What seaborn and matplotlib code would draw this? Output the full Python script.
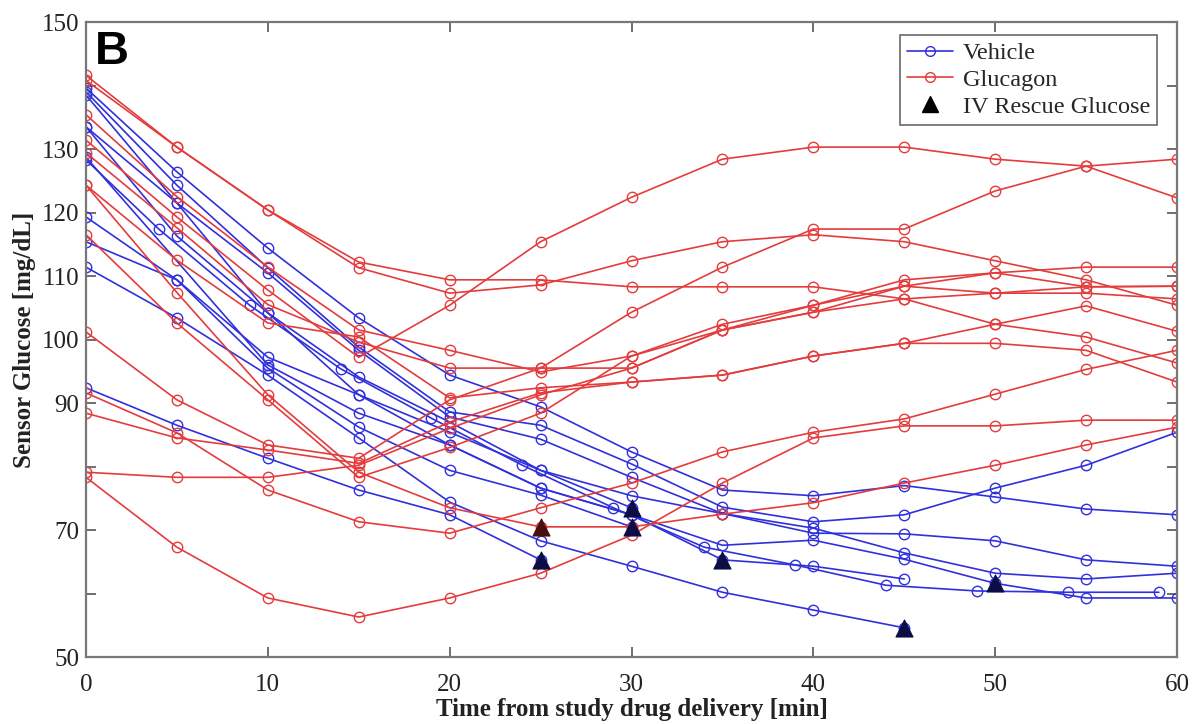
import matplotlib
matplotlib.use("Agg")
import matplotlib.pyplot as plt
from matplotlib.lines import Line2D
import seaborn as sns
import pandas as pd
import numpy as np

nan = np.nan

# ---- time grids ----
times = [0, 5, 10, 15, 20, 25, 30, 35, 40, 45, 50, 55, 60]
offset_times = [0, 4, 9, 14, 19, 24, 29, 34, 39, 44, 49, 54, 59]

# ---- Glucagon subjects (mg/dL) ----
g01 = [141.6, 130.3, 120.4, 112.2, 109.4, 109.4, 108.3, 108.3, 108.3, 106.4, 107.3, 108.3, 108.4]
g02 = [140.8, 130.3, 120.4, 111.3, 107.3, 108.6, 112.4, 115.4, 116.5, 115.4, 112.4, 109.4, 105.4]
g03 = [135.4, 122.5, 111.4, 101.5, 98.3, 94.9, 97.4, 102.4, 105.4, 109.4, 110.5, 111.4, 111.4]
g04 = [131.4, 119.3, 107.8, 97.2, 105.4, 115.4, 122.4, 128.4, 130.3, 130.3, 128.4, 127.3, 122.3]
g05 = [129.4, 117.6, 105.5, 99.6, 95.5, 95.5, 95.5, 101.5, 104.3, 108.4, 107.3, 107.3, 106.4]
g06 = [124.3, 112.5, 102.6, 100.4, 90.8, 92.4, 93.3, 94.4, 97.4, 99.4, 99.4, 98.3, 93.3]
g07 = [124.3, 107.4, 91.3, 79.1, 73.5, 70.5, 70.5, 72.5, 74.3, 77.4, 80.2, 83.4, 86.2]
g08 = [116.5, 102.6, 90.5, 78.3, 83.0, 88.4, 97.4, 101.5, 104.3, 106.4, 102.4, 100.4, 96.3]
g09 = [101.2, 90.5, 83.4, 81.3, 90.5, 95.5, 104.3, 111.4, 117.4, 117.4, 123.4, 127.3, 128.4]
g10 = [91.6, 85.3, 76.3, 71.3, 69.5, 73.5, 77.4, 82.3, 85.4, 87.5, 91.4, 95.3, 98.3]
g11 = [88.4, 84.5, 82.6, 80.5, 87.0, 91.6, 93.3, 94.4, 97.4, 99.4, 102.4, 105.3, 101.3]
g12 = [79.1, 78.3, 78.3, 80.2, 86.0, 91.3, 95.5, 101.5, 105.4, 108.4, 110.5, 108.3, 108.4]
g13 = [78.3, 67.3, 59.3, 56.3, 59.3, 63.2, 69.2, 77.4, 84.5, 86.4, 86.4, 87.3, 87.3]

# ---- Vehicle subjects (mg/dL) ----
v01 = [139.6, 126.4, 114.4, 103.4, 94.4, 89.4, 82.3, 76.3, 75.4, 77.0, 75.2, 73.3, 72.4]
v02 = [139.0, 124.3, 111.3, 98.8, 88.6, 86.5, 80.4, 73.6, 71.3, 72.4, 76.6, 80.2, 85.4]
v03 = [138.5, 121.5, 110.5, 98.3, 87.8, 84.3, 78.3, 72.6, 69.5, 69.4, 68.3, 65.3, 64.3]
v04 = [133.5, 116.3, 104.2, 94.1, 87.0, 79.4, 75.4, 72.6, 70.3, 66.4, 63.2, 62.3, 63.2]
v05 = [119.3, 109.4, 97.2, 91.3, 85.4, 79.4, 73.5, nan, nan, nan, nan, nan, nan]
v06 = [128.7, nan, 96.0, 88.4, 83.4, 76.6, 72.4, 67.6, 68.4, 65.4, 61.6, 59.3, 59.3]
v07 = [115.4, 109.4, 95.5, 86.2, 79.4, 75.5, 70.5, nan, nan, nan, nan, nan, nan]
v08 = [133.5, 121.5, 104.2, 91.3, 83.4, 76.6, 72.4, 65.3, 64.3, 62.3, nan, nan, nan]
v09 = [111.4, 103.4, 94.4, 84.5, 74.4, 68.3, 64.3, 60.2, 57.4, 54.6, nan, nan, nan]
v10 = [92.4, 86.5, 81.3, 76.3, 72.4, 65.3, nan, nan, nan, nan, nan, nan, nan]
v11 = [128.3, 117.4, 105.4, 95.4, 87.6, 80.2, 73.5, 67.3, 64.5, 61.3, 60.4, 60.2, 60.2]  # on offset_times

# ---- IV rescue glucose events ----
rescue_t = [25, 30, 30, 35, 45, 50, 25]
rescue_v = [65.3, 73.5, 70.5, 65.3, 54.6, 61.6, 70.5]
rescue_grp = ["Vehicle", "Vehicle", "Vehicle", "Vehicle", "Vehicle", "Vehicle", "Glucagon"]

# ---- axis tick labels ----
y_ticks = [50, 60, 70, 80, 90, 100, 110, 120, 130, 140, 150]
y_ticklabels = ["50", "", "70", "", "90", "100", "110", "120", "130", "", "150"]
x_ticks = [0, 10, 20, 30, 40, 50, 60]

# ---- build long tables ----
rows = []
for name, vals in [("g01", g01), ("g02", g02), ("g03", g03), ("g04", g04), ("g05", g05),
                   ("g06", g06), ("g07", g07), ("g08", g08), ("g09", g09), ("g10", g10),
                   ("g11", g11), ("g12", g12), ("g13", g13)]:
    for t, v in zip(times, vals):
        rows.append(("Glucagon", name, t, v))
for name, vals in [("v01", v01), ("v02", v02), ("v03", v03), ("v04", v04), ("v05", v05),
                   ("v06", v06), ("v07", v07), ("v08", v08), ("v09", v09), ("v10", v10)]:
    for t, v in zip(times, vals):
        rows.append(("Vehicle", name, t, v))
for t, v in zip(offset_times, v11):
    rows.append(("Vehicle", "v11", t, v))
df = pd.DataFrame(rows, columns=["group", "subject", "time", "glucose"]).dropna()
rescue = pd.DataFrame({"time": rescue_t, "glucose": rescue_v, "group": rescue_grp})

BLUE = "#3030dc"
RED = "#e43c3c"

sns.set_theme(style="white")
plt.rcParams["font.family"] = ["Liberation Serif", "DejaVu Serif"]

fig = plt.figure(figsize=(11.99, 7.24), dpi=100)
ax = fig.add_axes([0.0717, 0.0925, 0.9100, 0.8771])

for grp, col in [("Vehicle", BLUE), ("Glucagon", RED)]:
    sub = df[df["group"] == grp]
    sns.lineplot(data=sub, x="time", y="glucose", units="subject", estimator=None,
                 color=col, lw=1.2, marker="o", markersize=7.5,
                 markerfacecolor="none", markeredgecolor=col, markeredgewidth=1.0,
                 ax=ax, legend=False)

res_cols = {"Vehicle": "#0d0d45", "Glucagon": "#4a0e0e"}
for grp in ["Vehicle", "Glucagon"]:
    sub = rescue[rescue["group"] == grp]
    sns.scatterplot(data=sub, x="time", y="glucose", marker="^", s=150,
                    color=res_cols[grp], edgecolor=res_cols[grp], linewidth=0.8,
                    ax=ax, legend=False, zorder=5)

ax.set_xlim(0, 60)
ax.set_ylim(50, 150)
ax.set_xticks(x_ticks)
ax.set_xticklabels([str(x) for x in x_ticks])
ax.set_yticks(y_ticks)
ax.set_yticklabels(y_ticklabels)
ax.tick_params(axis="both", which="both", direction="in", length=7, width=1.2,
               top=True, right=True, left=True, bottom=True, colors="#555555",
               labelcolor="#222222", labelsize=18)
ax.tick_params(axis="x", pad=12)
ax.tick_params(axis="y", pad=5)
for sp in ax.spines.values():
    sp.set_color("#777777")
    sp.set_linewidth(1.6)

ax.set_xlabel("Time from study drug delivery [min]", fontsize=18, fontweight="bold",
              color="#222222", labelpad=2)
ax.set_ylabel("Sensor Glucose [mg/dL]", fontsize=18, fontweight="bold",
              color="#222222", labelpad=4)

ax.text(0.008, 0.988, "B", transform=ax.transAxes, ha="left", va="top",
        fontsize=34, fontweight="bold", family=["Liberation Sans", "DejaVu Sans"],
        color="black")

handles = [
    Line2D([0], [0], color=BLUE, lw=1.2, marker="o", markersize=7,
           markerfacecolor="none", markeredgecolor=BLUE),
    Line2D([0], [0], color=RED, lw=1.2, marker="o", markersize=7,
           markerfacecolor="none", markeredgecolor=RED),
    Line2D([0], [0], color="none", marker="^", markersize=11,
           markerfacecolor="black", markeredgecolor="black"),
]
leg = ax.legend(handles, ["Vehicle", "Glucagon", "IV Rescue Glucose"],
                loc="upper right", bbox_to_anchor=(0.982, 0.98), fontsize=17.5,
                frameon=True, fancybox=False, edgecolor="#444444",
                handlelength=1.9, handletextpad=0.4, borderpad=0.3,
                labelspacing=0.2, borderaxespad=0.0)
leg.get_frame().set_linewidth(1.2)

fig.savefig("out.png", dpi=100, facecolor="white")
